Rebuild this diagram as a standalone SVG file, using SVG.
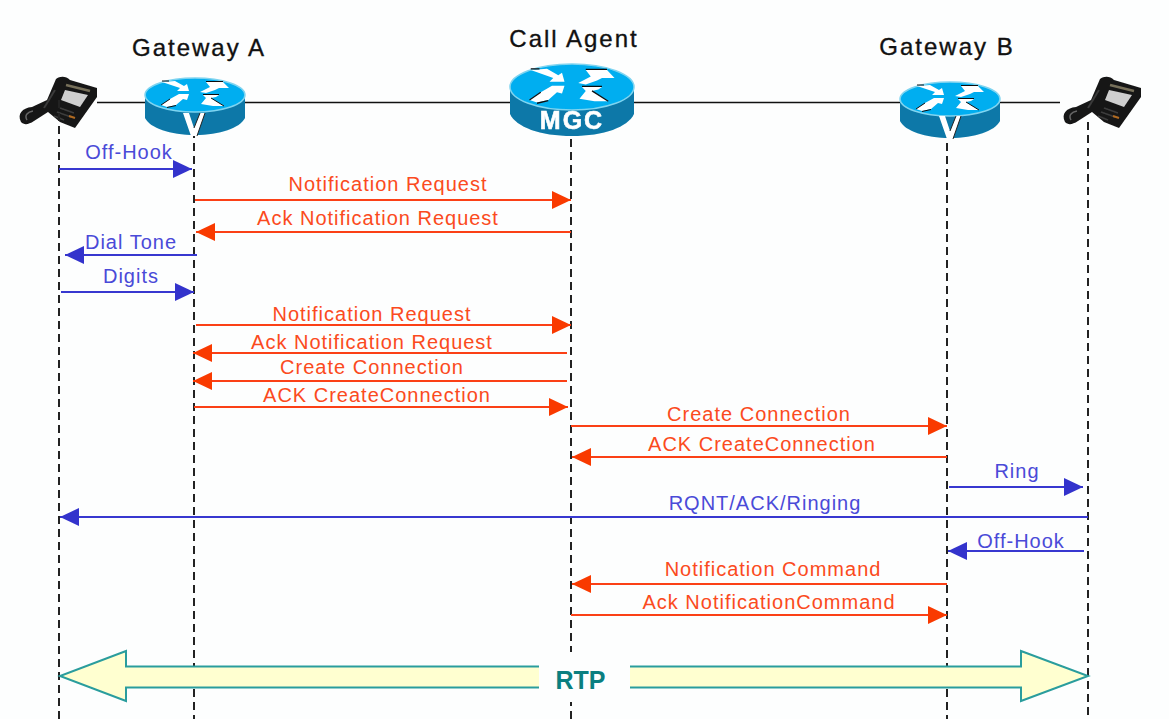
<svg xmlns="http://www.w3.org/2000/svg" width="1169" height="719" viewBox="0 0 1169 719">
<style>
text{font-family:"Liberation Sans",Arial,sans-serif;font-size:20px;text-anchor:middle;letter-spacing:1px}
.t{fill:#111;font-size:24px;stroke:#111;stroke-width:.35;letter-spacing:2px}
.b{fill:#4a4ad8}.r{fill:#fb4a20}
.ll{stroke:#222;stroke-width:2;stroke-dasharray:8 5;fill:none}
.bl{stroke:#3838d0;stroke-width:1.8;fill:none}
.rl{stroke:#fb4016;stroke-width:1.8;fill:none}
.top{fill:#00aef0;stroke:#7fd4f0;stroke-width:1.500}
.side{fill:#0a78a8}
.mark{fill:#fff}
.edge{fill:none;stroke:#111;stroke-width:1}
.soft{filter:url(#blur)}
</style>
<defs>
<filter id="blur" x="-10%" y="-10%" width="120%" height="120%"><feGaussianBlur stdDeviation="0.5"/></filter>
<marker id="ab" markerUnits="userSpaceOnUse" markerWidth="20" markerHeight="18" refX="19" refY="9" orient="auto-start-reverse"><path d="M0 0L19 9L0 18Z" fill="#3333cc"/></marker>
<marker id="ar" markerUnits="userSpaceOnUse" markerWidth="20" markerHeight="18" refX="19" refY="9" orient="auto-start-reverse"><path d="M0 0L19 9L0 18Z" fill="#f93a00"/></marker>
<g id="arrows">
<path class="mark" d="M-33-13L-20-14L-11-9L-8-11L-6-4L-18-4L-15-7Z"/>
<path class="mark" d="M5-3L15-8L11-13L28-13L34-7L24-7L20-5L11-2Z"/>
<path class="mark" d="M-34 10L-25 4L-16-1L-6-1L-8 5L-12 4L-19 10L-28 12Z"/>
<path class="mark" d="M6 9L11 3L8 0L24 0L21 2L16 3L29 11L18 11Z"/>
<path class="edge" d="M-33-14L-26-14M11-13.500H28M-34 10L-25 4M-28 12.500L-19 10.500M8-.5H24M16 3L29 11"/>
</g>
<g id="v"><path d="M-11 17L-3 40H3L11 17L6 17L0 32L-5 17Z" fill="#fff"/><path d="M6 17L0 32M11 17L3 40" stroke="#222" stroke-width="1" fill="none"/></g>
<g id="phone">
<path d="M21 122C17 114 22 108 32 107L47 100L56 79C60 76 66 76 70 80L97 88L97 97L75 128L60 122L48 112L34 121C28 125 24 125 21 122Z" fill="#171717"/>
<path d="M27 120C24 115 28 112 33 111" stroke="#666" stroke-width="1.500" fill="none"/>
<path d="M65 90L88 95L80 107L61 100Z" fill="#cfcfcf"/>
<path d="M66 85L90 91" stroke="#77705a" stroke-width="2.500" fill="none"/>
<path d="M55 90L44 108" stroke="#3a3a3a" stroke-width="2" fill="none"/>
<path d="M60 108l14 5M57 112l14 5M54 116l10 4" stroke="#3c3c3c" stroke-width="1.500" fill="none"/>
<path d="M69 116l6 2" stroke="#b06a20" stroke-width="2"/>
</g>
</defs>
<rect width="1169" height="719" fill="#fdfefe"/>
<g id="backbone"><path d="M97 102.500H1060" stroke="#111" stroke-width="1.600"/></g>
<g id="phone-a" class="soft"><use href="#phone"/></g>
<g id="phone-b" class="soft"><use href="#phone" x="1044"/></g>
<g id="lifelines">
<path class="ll" d="M59 100V719"/><path class="ll" d="M194 130V719"/><path class="ll" d="M571 139V719"/><path class="ll" d="M947 130V719"/><path class="ll" d="M1088 122V719"/>
</g>
<g id="gateway-a" class="soft">
<path class="side" d="M145 97V118C150 128 170 135 195 135S240 128 245 118V97Z"/>
<ellipse class="top" cx="195" cy="95" rx="50" ry="17"/>
<use href="#arrows" x="195" y="95"/>
<use href="#v" x="194" y="96"/>
</g>
<text class="t" x="199" y="56">Gateway A</text>
<g id="call-agent" class="soft">
<path class="side" d="M510 88V114C516 127 540 136 572 136S628 127 634 114V88Z"/>
<ellipse class="top" cx="572" cy="87" rx="62" ry="23"/>
<use href="#arrows" transform="translate(572 87) scale(1.25 1.3)"/>
<text x="572" y="129" style="font-size:25px;font-weight:bold;fill:#fff;stroke:#fff;stroke-width:.6;letter-spacing:2px">MGC</text>
</g>
<text class="t" x="574" y="47">Call Agent</text>
<g id="gateway-b" class="soft">
<path class="side" d="M900 101V121C905 131 925 138 950 138S995 131 1000 121V101Z"/>
<ellipse class="top" cx="950" cy="99" rx="50" ry="17"/>
<use href="#arrows" x="950" y="99"/>
<use href="#v" x="950" y="99"/>
</g>
<text class="t" x="947" y="55">Gateway B</text>
<g id="connectors">
<path class="bl" marker-end="url(#ab)" d="M59 169H192"/>
<path class="rl" marker-end="url(#ar)" d="M195 200H571"/>
<path class="rl" marker-end="url(#ar)" d="M571 232H196"/>
<path class="bl" marker-end="url(#ab)" d="M197 255H65"/>
<path class="bl" marker-end="url(#ab)" d="M61 292H194"/>
<path class="rl" marker-end="url(#ar)" d="M196 325H571"/>
<path class="rl" marker-end="url(#ar)" d="M567 353H193"/>
<path class="rl" marker-end="url(#ar)" d="M567 381H193"/>
<path class="rl" marker-end="url(#ar)" d="M194 407H568"/>
<path class="rl" marker-end="url(#ar)" d="M571 426H947"/>
<path class="rl" marker-end="url(#ar)" d="M947 457H572"/>
<path class="bl" marker-end="url(#ab)" d="M949 487H1083"/>
<path class="bl" marker-end="url(#ab)" d="M1088 517H60"/>
<path class="bl" marker-end="url(#ab)" d="M1084 551H948"/>
<path class="rl" marker-end="url(#ar)" d="M947 584H572"/>
<path class="rl" marker-end="url(#ar)" d="M571 615H947"/>
</g>
<g id="labels">
<text class="b" x="129" y="159">Off-Hook</text>
<text class="r" x="388" y="191">Notification Request</text>
<text class="r" x="378" y="225">Ack Notification Request</text>
<text class="b" x="131" y="249">Dial Tone</text>
<text class="b" x="131" y="283">Digits</text>
<text class="r" x="372" y="321">Notification Request</text>
<text class="r" x="372" y="349">Ack Notification Request</text>
<text class="r" x="372" y="374">Create Connection</text>
<text class="r" x="377" y="402">ACK CreateConnection</text>
<text class="r" x="759" y="421">Create Connection</text>
<text class="r" x="762" y="451">ACK CreateConnection</text>
<text class="b" x="1017" y="478">Ring</text>
<text class="b" x="765" y="510">RQNT/ACK/Ringing</text>
<text class="b" x="1021" y="548">Off-Hook</text>
<text class="r" x="773" y="576">Notification Command</text>
<text class="r" x="769" y="609">Ack NotificationCommand</text>
</g>
<g id="rtp">
<rect x="540" y="652" width="89" height="50" fill="#fdfefe"/>
<path d="M539 666.500H126V651L60 676L126 701V687.500H539Z" fill="#ffffd0"/>
<path d="M539 666.500H126V651L60 676L126 701V687.500H539" fill="none" stroke="#2a9d9d" stroke-width="2"/>
<path d="M630 666.500H1021V651L1088 676L1021 701V687.500H630Z" fill="#ffffd0"/>
<path d="M630 666.500H1021V651L1088 676L1021 701V687.500H630" fill="none" stroke="#2a9d9d" stroke-width="2"/>
<text x="580.500" y="689" style="font-size:25px;font-weight:bold;fill:#0a7f80;letter-spacing:0">RTP</text>
</g>
</svg>
